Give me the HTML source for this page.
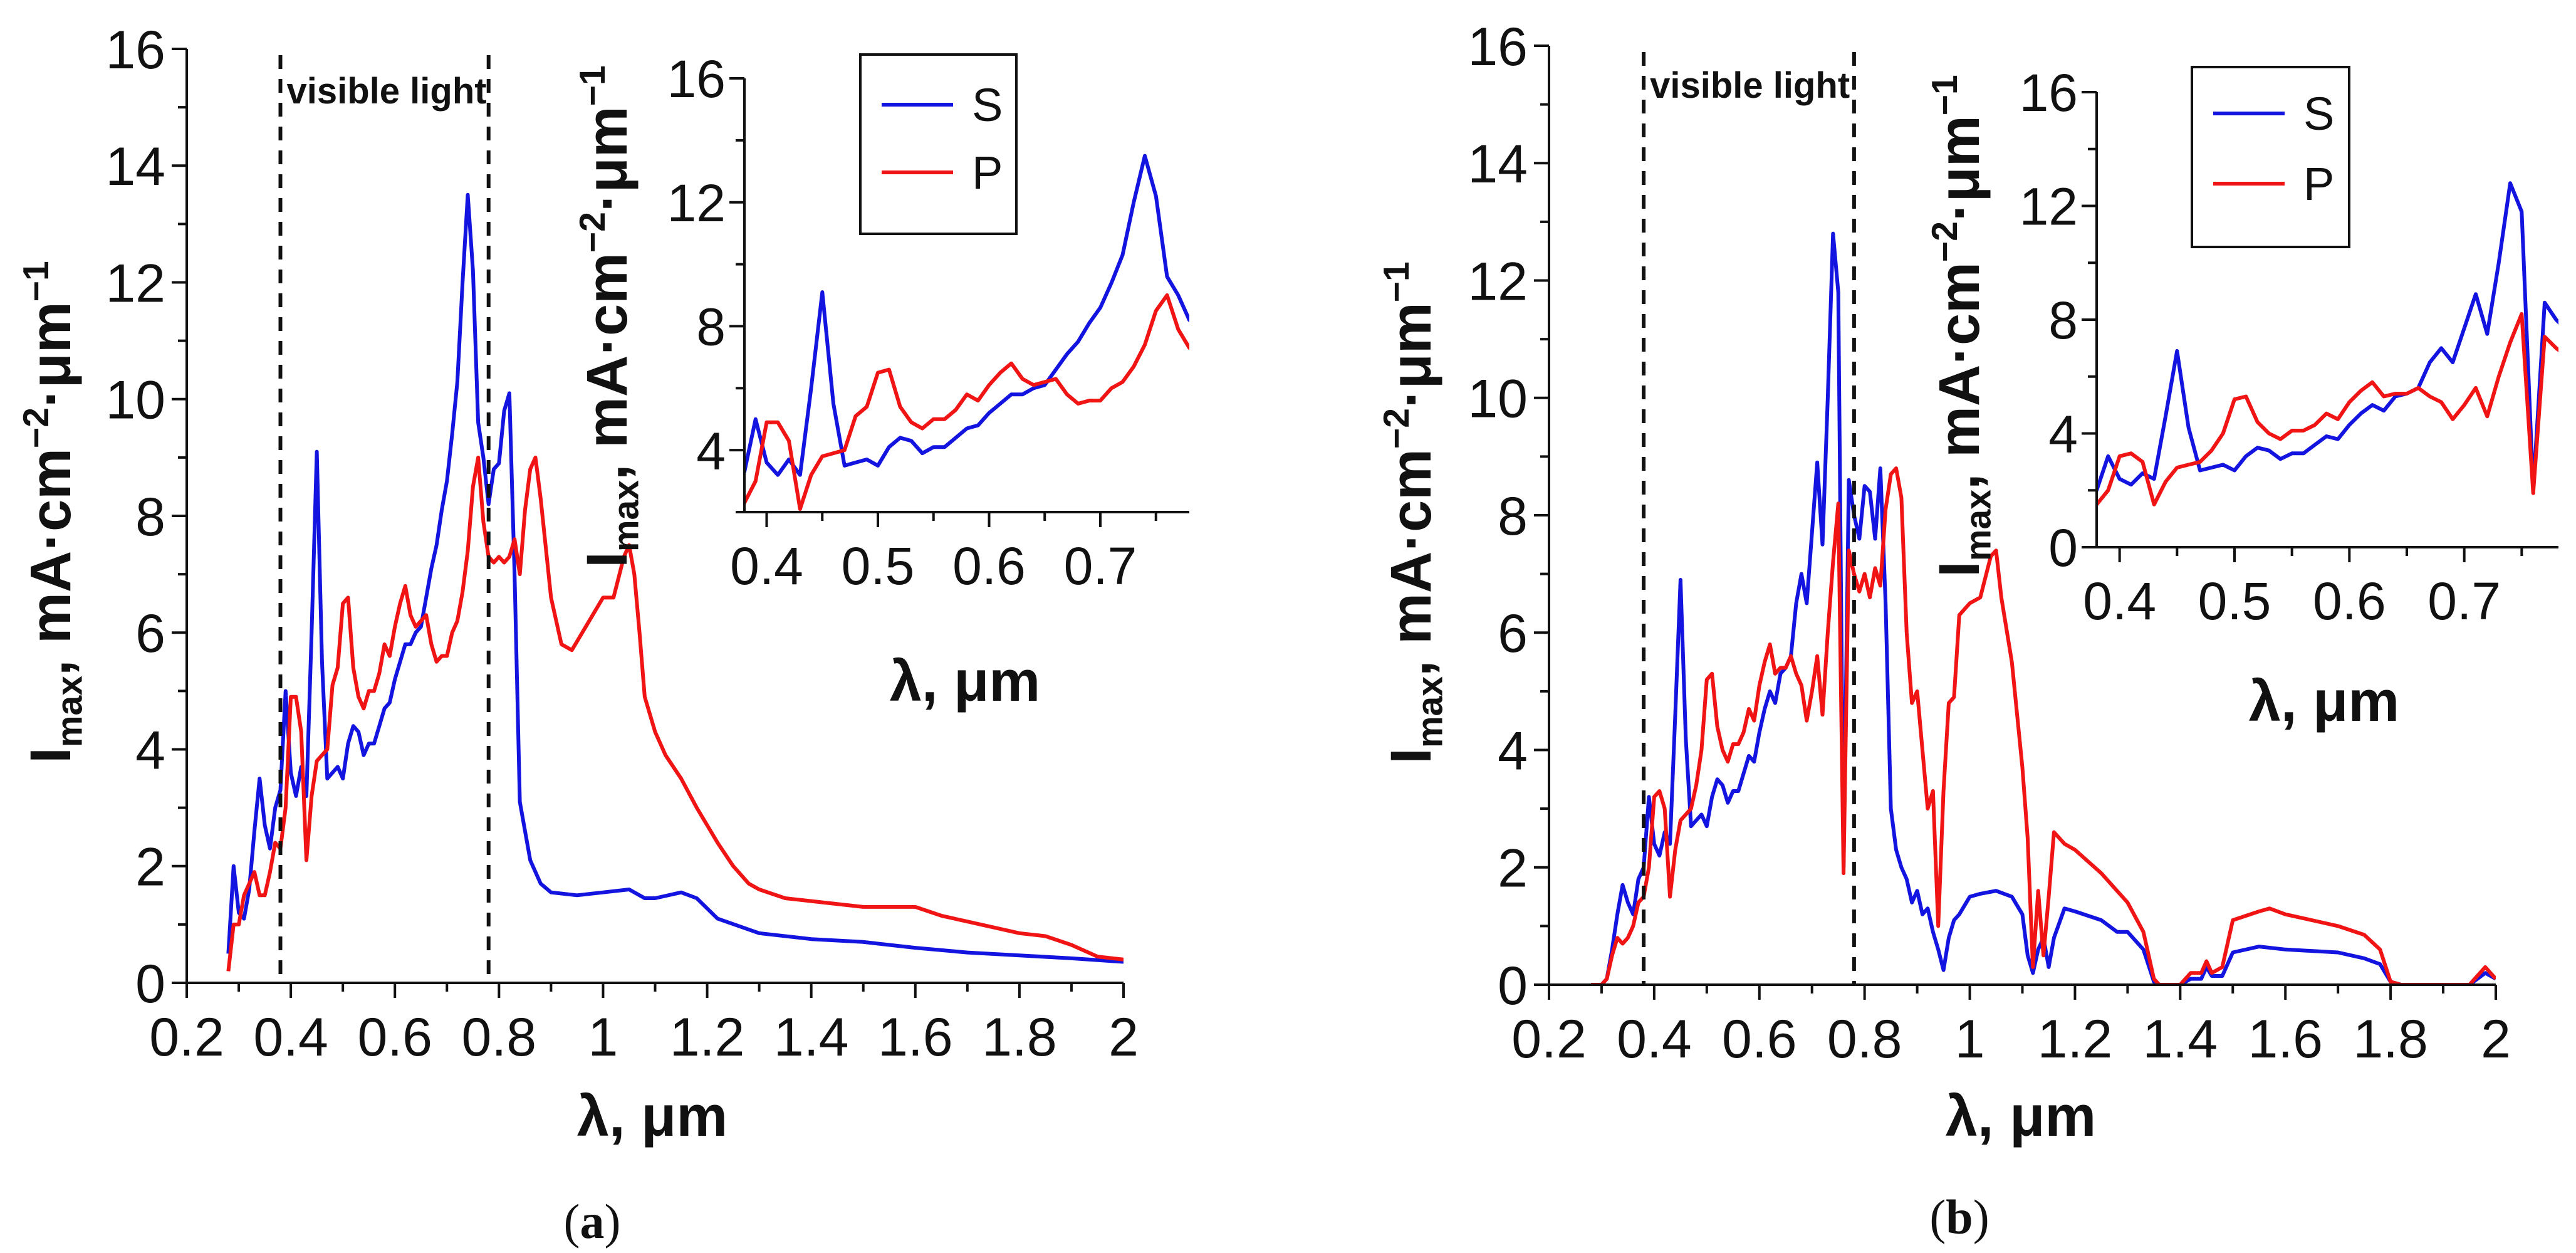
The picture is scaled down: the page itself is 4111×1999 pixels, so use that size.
<!DOCTYPE html>
<html><head><meta charset="utf-8"><style>
html,body{margin:0;padding:0;background:#fff;}
svg{display:block;font-family:"Liberation Sans",sans-serif;}
</style></head><body>
<svg id="fig" width="4111" height="1999" viewBox="0 0 4111 1999" xmlns="http://www.w3.org/2000/svg">
<rect width="4111" height="1999" fill="#fff"/>
</svg>
<script>
// ---------- data: panel (a) ----------
const aSx=[0.28,0.29,0.30,0.31,0.32,0.33,0.34,0.35,0.36,0.37,0.38,0.39,0.40,0.41,0.42,0.43,0.44,0.45,0.46,0.47,0.48,0.49,0.50,0.51,0.52,0.53,0.54,0.55,0.56,0.57,0.58,0.59,0.60,0.61,0.62,0.63,0.64,0.65,0.66,0.67,0.68,0.69,0.70,0.71,0.72,0.73,0.74,0.75,0.76,0.77,0.78,0.79,0.80,0.81,0.82,0.83,0.84,0.86,0.88,0.90,0.95,1.00,1.05,1.08,1.10,1.15,1.18,1.22,1.30,1.40,1.50,1.60,1.70,1.80,1.90,2.00];
const aSy=[0.5,2.0,1.2,1.1,1.6,2.6,3.5,2.7,2.3,3.0,3.3,5.0,3.6,3.2,3.7,3.2,6.0,9.1,5.5,3.5,3.6,3.7,3.5,4.1,4.4,4.3,3.9,4.1,4.1,4.4,4.7,4.8,5.2,5.5,5.8,5.8,6.0,6.1,6.6,7.1,7.5,8.1,8.6,9.4,10.3,12.0,13.5,12.2,9.6,9.0,8.2,8.8,8.9,9.8,10.1,7.0,3.1,2.1,1.7,1.55,1.5,1.55,1.6,1.45,1.45,1.55,1.45,1.1,0.85,0.75,0.7,0.6,0.52,0.47,0.42,0.36];
const aPx=[0.28,0.29,0.30,0.31,0.32,0.33,0.34,0.35,0.36,0.37,0.38,0.39,0.40,0.41,0.42,0.43,0.44,0.45,0.46,0.47,0.48,0.49,0.50,0.51,0.52,0.53,0.54,0.55,0.56,0.57,0.58,0.59,0.60,0.61,0.62,0.63,0.64,0.65,0.66,0.67,0.68,0.69,0.70,0.71,0.72,0.73,0.74,0.75,0.76,0.77,0.78,0.79,0.80,0.81,0.82,0.83,0.84,0.85,0.86,0.87,0.88,0.90,0.92,0.94,0.96,0.98,1.00,1.02,1.04,1.05,1.06,1.07,1.08,1.10,1.12,1.15,1.18,1.20,1.22,1.25,1.28,1.30,1.35,1.40,1.50,1.55,1.60,1.65,1.70,1.80,1.85,1.90,1.95,2.00];
const aPy=[0.2,1.0,1.0,1.5,1.7,1.9,1.5,1.5,1.9,2.4,2.3,3.0,4.9,4.9,4.3,2.1,3.2,3.8,3.9,4.0,5.1,5.4,6.5,6.6,5.4,4.9,4.7,5.0,5.0,5.3,5.8,5.6,6.1,6.5,6.8,6.3,6.1,6.2,6.3,5.8,5.5,5.6,5.6,6.0,6.2,6.7,7.4,8.5,9.0,7.9,7.3,7.2,7.3,7.2,7.3,7.6,7.0,8.1,8.8,9.0,8.3,6.6,5.8,5.7,6.0,6.3,6.6,6.6,7.3,7.5,7.0,6.0,4.9,4.3,3.9,3.5,3.0,2.7,2.4,2.0,1.7,1.6,1.45,1.4,1.3,1.3,1.3,1.15,1.05,0.85,0.8,0.65,0.45,0.4];
// ---------- data: panel (b) ----------
const bSx=[0.28,0.30,0.31,0.32,0.33,0.34,0.35,0.36,0.37,0.38,0.39,0.40,0.41,0.42,0.43,0.44,0.45,0.46,0.47,0.48,0.49,0.50,0.51,0.52,0.53,0.54,0.55,0.56,0.57,0.58,0.59,0.60,0.61,0.62,0.63,0.64,0.65,0.66,0.67,0.68,0.69,0.70,0.71,0.72,0.73,0.74,0.75,0.76,0.77,0.78,0.79,0.80,0.81,0.82,0.83,0.84,0.85,0.86,0.87,0.88,0.89,0.90,0.91,0.92,0.93,0.94,0.95,0.96,0.97,0.98,1.00,1.02,1.05,1.08,1.10,1.11,1.12,1.13,1.14,1.15,1.16,1.18,1.20,1.25,1.28,1.30,1.33,1.35,1.36,1.40,1.42,1.44,1.45,1.46,1.48,1.50,1.55,1.60,1.70,1.75,1.78,1.80,1.82,1.95,1.98,2.00];
const bSy=[0,0,0.1,0.6,1.2,1.7,1.4,1.2,1.8,2.0,3.2,2.4,2.2,2.6,2.4,4.6,6.9,4.2,2.7,2.8,2.9,2.7,3.2,3.5,3.4,3.1,3.3,3.3,3.6,3.9,3.8,4.3,4.7,5.0,4.8,5.3,5.4,5.6,6.5,7.0,6.5,7.7,8.9,7.5,10.0,12.8,11.8,2.0,8.6,8.0,7.6,8.5,8.4,7.6,8.8,6.5,3.0,2.3,2.0,1.8,1.4,1.6,1.2,1.3,0.9,0.6,0.25,0.8,1.1,1.2,1.5,1.55,1.6,1.5,1.2,0.5,0.2,0.6,0.8,0.3,0.8,1.3,1.25,1.1,0.9,0.9,0.6,0.05,0,0,0.1,0.1,0.3,0.15,0.15,0.55,0.65,0.6,0.55,0.45,0.35,0.05,0,0,0.2,0.1];
const bPx=[0.28,0.30,0.31,0.32,0.33,0.34,0.35,0.36,0.37,0.38,0.39,0.40,0.41,0.42,0.43,0.44,0.45,0.46,0.47,0.48,0.49,0.50,0.51,0.52,0.53,0.54,0.55,0.56,0.57,0.58,0.59,0.60,0.61,0.62,0.63,0.64,0.65,0.66,0.67,0.68,0.69,0.70,0.71,0.72,0.73,0.74,0.75,0.76,0.77,0.78,0.79,0.80,0.81,0.82,0.83,0.84,0.85,0.86,0.87,0.88,0.89,0.90,0.91,0.92,0.93,0.94,0.95,0.96,0.97,0.98,1.00,1.02,1.04,1.05,1.06,1.08,1.10,1.11,1.12,1.13,1.14,1.15,1.16,1.18,1.20,1.25,1.28,1.30,1.33,1.35,1.36,1.40,1.42,1.44,1.45,1.46,1.48,1.50,1.55,1.57,1.60,1.65,1.70,1.75,1.78,1.80,1.82,1.95,1.98,2.00];
const bPy=[0,0,0.1,0.5,0.8,0.7,0.8,1.0,1.4,1.5,2.0,3.2,3.3,3.0,1.5,2.3,2.8,2.9,3.0,3.4,4.0,5.2,5.3,4.4,4.0,3.8,4.1,4.1,4.3,4.7,4.5,5.1,5.5,5.8,5.3,5.4,5.4,5.6,5.3,5.1,4.5,5.0,5.6,4.6,6.0,7.2,8.2,1.9,7.4,7.0,6.7,7.0,6.6,7.1,6.8,8.1,8.7,8.8,8.3,6.0,4.8,5.0,4.0,3.0,3.3,1.0,3.3,4.8,4.9,6.3,6.5,6.6,7.3,7.4,6.6,5.5,3.7,2.5,0.3,1.6,0.5,1.5,2.6,2.4,2.3,1.9,1.6,1.4,0.9,0.1,0,0,0.2,0.2,0.4,0.2,0.3,1.1,1.25,1.3,1.2,1.1,1.0,0.85,0.6,0.05,0,0,0.3,0.1];
// ---------- tick labels ----------
const mainXTicks=[0.2,0.4,0.6,0.8,1,1.2,1.4,1.6,1.8,2];
const mainYTicks=[0,2,4,6,8,10,12,14,16];
const insetXTicks=[0.4,0.5,0.6,0.7];
const insetAYTicks=[4,8,12,16];
const insetBYTicks=[0,4,8,12,16];
const visibleBounds=[0.38,0.78];

const NS="http://www.w3.org/2000/svg";
const svg=document.getElementById('fig');
function mk(tag,attrs,parent,text){const e=document.createElementNS(NS,tag);for(const k in attrs)e.setAttribute(k,attrs[k]);if(text!==undefined)e.textContent=text;(parent||svg).appendChild(e);return e;}
function fmt(v){return String(v);}

function panel(o){
  const g=mk('g',{});
  
  
  const X=v=>o.x0+(v-o.xmin)*(o.x1-o.x0)/(o.xmax-o.xmin);
  const Y=v=>o.y0-(v-o.ymin)*(o.y0-o.y1)/(o.ymax-o.ymin);
  const cid='clip-'+o.name;
  const cp=mk('clipPath',{id:cid},g);
  mk('rect',{x:o.x0,y:o.y1-20,width:o.x1-o.x0,height:o.y0-o.y1+20},cp);
  o.series.forEach(s=>{
    let d='';s.xs.forEach((xv,i)=>{d+=(i?'L':'M')+X(xv).toFixed(1)+' '+Y(s.ys[i]).toFixed(1);});
    const p=mk('path',{d:d,fill:'none',stroke:s.color,'stroke-width':o.lw,'stroke-linejoin':'round','clip-path':'url(#'+cid+')'},g);
    
    
  });
  const ax=mk('path',{d:`M${o.x0} ${o.y1}V${o.y0}H${o.x1}`,fill:'none',stroke:'#111','stroke-width':4},g);
  
  
  for(let v=o.xMinorStart;v<=o.xmax+1e-6;v+=o.xMinor){
    const major=o.xTicks.some(t=>Math.abs(t-v)<1e-6);
    mk('line',{x1:X(v),x2:X(v),y1:o.y0,y2:o.y0+(major?o.tkMaj:o.tkMin),stroke:'#111','stroke-width':4},g);
  }
  o.xTicks.forEach(t=>{const e=mk('text',{x:X(t),y:o.y0+o.xLabOff,'font-size':o.fs,'text-anchor':'middle',fill:'#111'},g,fmt(t));
    });
  for(let v=o.ymin;v<=o.ymax+1e-6;v+=o.yMinor){
    const major=o.yTicks.some(t=>Math.abs(t-v)<1e-6);
    mk('line',{x1:o.x0,x2:o.x0-(major?o.tkMaj:o.tkMin),y1:Y(v),y2:Y(v),stroke:'#111','stroke-width':4},g);
  }
  o.yTicks.forEach(t=>{const e=mk('text',{x:o.x0-o.yLabOff,y:Y(t)+o.fs*0.36,'font-size':o.fs,'text-anchor':'end',fill:'#111'},g,fmt(t));
    });
  const xt=mk('text',{x:o.xtx,y:o.xty,'font-size':o.tfs,'font-weight':'bold','text-anchor':'middle',fill:'#111'},g,'λ, μm');
  
  const yt=mk('text',{transform:`translate(${o.ytx},${o.yty}) rotate(-90)`,'font-size':o.tfs,'font-weight':'bold','text-anchor':'middle',fill:'#111'},g);
  
  mk('tspan',{},yt,'I');mk('tspan',{'font-size':o.tfs*0.62,dy:o.tfs*0.2},yt,'max');
  mk('tspan',{dy:-o.tfs*0.2},yt,', mA·cm');mk('tspan',{'font-size':o.tfs*0.62,dy:-o.tfs*0.38},yt,'−2');
  mk('tspan',{dy:o.tfs*0.38},yt,'·μm');mk('tspan',{'font-size':o.tfs*0.62,dy:-o.tfs*0.38},yt,'−1');
  return {X,Y,g};
}

function figure(p){
  const main=panel({name:p.id+'-main-chart',x0:p.mx0,x1:p.mx1,y0:p.my0,y1:p.my1,xmin:0.2,xmax:2,ymin:0,ymax:16,
    xTicks:mainXTicks,yTicks:mainYTicks,xMinor:0.1,xMinorStart:0.2,yMinor:1,tkMaj:24,tkMin:14,fs:86,xLabOff:116,yLabOff:34,tfs:92,lw:6,
    xtx:p.mxt[0],xty:p.mxt[1],ytx:p.myt[0],yty:p.myt[1],
    series:[{xs:p.Sx,ys:p.Sy,color:'#1414e0',name:'series-s'},{xs:p.Px,ys:p.Py,color:'#f01414',name:'series-p'}]});
  visibleBounds.forEach(v=>{const l=mk('line',{x1:main.X(v),x2:main.X(v),y1:p.my1+10,y2:p.my0,stroke:'#111','stroke-width':6,'stroke-dasharray':'22 16'},main.g);
    });
  const vt=mk('text',{x:main.X(visibleBounds[0])+10,y:p.vty,'font-size':58,'font-weight':'bold',fill:'#111'},main.g,'visible light');
  
  panel({name:p.id+'-inset-chart',x0:p.ix0,x1:p.ix1,y0:p.iy0,y1:p.iy1,xmin:0.38,xmax:p.ixmax,ymin:p.iymin,ymax:16,
    xTicks:insetXTicks,yTicks:p.iyTicks,xMinor:0.05,xMinorStart:0.4,yMinor:2,tkMaj:24,tkMin:14,fs:84,xLabOff:115,yLabOff:30,tfs:92,lw:6,
    xtx:p.ixt[0],xty:p.ixt[1],ytx:p.iyt[0],yty:p.iyt[1],
    series:[{xs:p.Sx,ys:p.Sy,color:'#1414e0',name:'inset-series-s'},{xs:p.Px,ys:p.Py,color:'#f01414',name:'inset-series-p'}]});
  const lg=mk('g',{});
  
  
  mk('rect',{x:p.lg[0],y:p.lg[1],width:p.lg[2],height:p.lg[3],fill:'#fff',stroke:'#111','stroke-width':4},lg);
  [['S','#1414e0',p.lgy[0]],['P','#f01414',p.lgy[1]]].forEach(e=>{
    const it=mk('g',{},lg);
    
    
    mk('line',{x1:p.lg[0]+34,x2:p.lg[0]+148,y1:e[2],y2:e[2],stroke:e[1],'stroke-width':6},it);
    mk('text',{x:p.lg[0]+178,y:e[2]+26,'font-size':74,fill:'#111'},it,e[0]);
  });
  const cap=mk('text',{x:p.cap[0],y:p.cap[1],'font-size':78,'text-anchor':'middle',fill:'#111','font-family':'Liberation Serif, serif'});
  
  mk('tspan',{},cap,'(');mk('tspan',{'font-weight':'bold'},cap,p.id);mk('tspan',{},cap,')');
}

figure({id:'a',Sx:aSx,Sy:aSy,Px:aPx,Py:aPy,mx0:298,mx1:1793,my0:1568,my1:78,mxt:[1041,1812],myt:[112,817],vty:165,
  ix0:1188,ix1:1898,iy0:817,iy1:125,ixmax:0.78,iymin:2,iyTicks:insetAYTicks,ixt:[1540,1118],iyt:[1000,505],
  lg:[1373,87,249,286],lgy:[167,275],cap:[945,1975]});
figure({id:'b',Sx:bSx,Sy:bSy,Px:bPx,Py:bPy,mx0:2472,mx1:3983,my0:1571,my1:73,mxt:[3225,1812],myt:[2283,818],vty:156,
  ix0:3346,ix1:4083,iy0:873,iy1:147,ixmax:0.782,iymin:0,iyTicks:insetBYTicks,ixt:[3709,1150],iyt:[3158,520],
  lg:[3498,107,251,287],lgy:[181,293],cap:[3127,1968]});
</script>
</body></html>
